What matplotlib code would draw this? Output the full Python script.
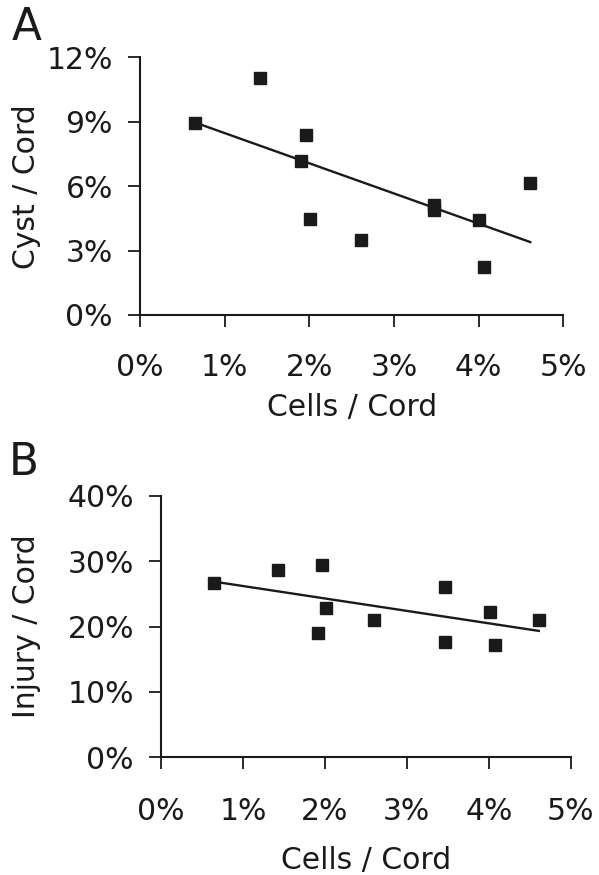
import matplotlib
matplotlib.use("Agg")
import matplotlib.pyplot as plt
import numpy as np
from matplotlib.ticker import FuncFormatter

# Cells / Cord (% of cord) for each animal
cells = [0.655, 1.42, 1.96, 1.90, 2.01, 2.61, 3.47, 3.47, 4.00, 4.06, 4.61]
# Panel A: cyst / cord (%)
cyst = [8.93, 11.02, 8.38, 7.16, 4.47, 3.48, 5.10, 4.90, 4.42, 2.25, 6.13]
# Panel B: injury / cord (%), same animals in the same order
cells_b = [0.65, 1.43, 1.96, 1.91, 2.01, 2.60, 3.47, 3.47, 4.01, 4.07, 4.61]
injury = [26.6, 28.6, 29.4, 19.0, 22.8, 21.0, 26.1, 17.7, 22.2, 17.2, 21.0]

x_ticks = [0, 1, 2, 3, 4, 5]
a_ticks = [0, 3, 6, 9, 12]
b_ticks = [0, 10, 20, 30, 40]

FS = 21.5
INK = "#1a1a1a"
plt.rcParams['font.family'] = ['DejaVu Sans']

fig = plt.figure(figsize=(5.99, 8.75), dpi=100)
axA = fig.add_axes([0.2337, 0.640, 0.7067, 0.2945])
axB = fig.add_axes([0.2688, 0.1345, 0.684, 0.299])

pct = FuncFormatter(lambda v, p: "%d%%" % v)


def panel(ax, x, y, yticks, ylabel, xpad, xlabpad, ylab_x):
    ax.plot(x, y, ls="none", marker="s", ms=8.4, color=INK, mec=INK, zorder=3)
    # least squares trend line across the data range
    k, b = np.polyfit(x, y, 1)
    xs = np.array([min(x), max(x)])
    ax.plot(xs, k * xs + b, color=INK, lw=1.7, zorder=2)
    ax.set_xlim(0, 5)
    ax.set_ylim(yticks[0], yticks[-1])
    ax.set_xticks(x_ticks)
    ax.set_yticks(yticks)
    ax.xaxis.set_major_formatter(pct)
    ax.yaxis.set_major_formatter(pct)
    for s in ["top", "right"]:
        ax.spines[s].set_visible(False)
    for s in ["left", "bottom"]:
        ax.spines[s].set_linewidth(1.5)
        ax.spines[s].set_color(INK)
        ax.spines[s].set_clip_on(False)
    ax.tick_params(axis="both", direction="out", length=8.5, width=1.3,
                   color=INK, labelsize=FS, labelcolor=INK)
    ax.tick_params(axis="x", pad=xpad)
    ax.tick_params(axis="y", pad=11)
    ax.set_xlabel("Cells / Cord", fontsize=FS, color=INK, labelpad=xlabpad)
    ax.set_ylabel(ylabel, fontsize=FS, color=INK)
    ax.yaxis.set_label_coords(ylab_x, 0.5)


panel(axA, cells, cyst, a_ticks, "Cyst / Cord", 18.5, 8, -0.234)
panel(axB, cells_b, injury, b_ticks, "Injury / Cord", 20, 14.5, -0.293)

fig.text(0.02, 0.9543, "A", fontsize=31.5, color=INK, va="baseline")
fig.text(0.015, 0.457, "B", fontsize=31.5, color=INK, va="baseline")

fig.savefig("out.png", dpi=100)
